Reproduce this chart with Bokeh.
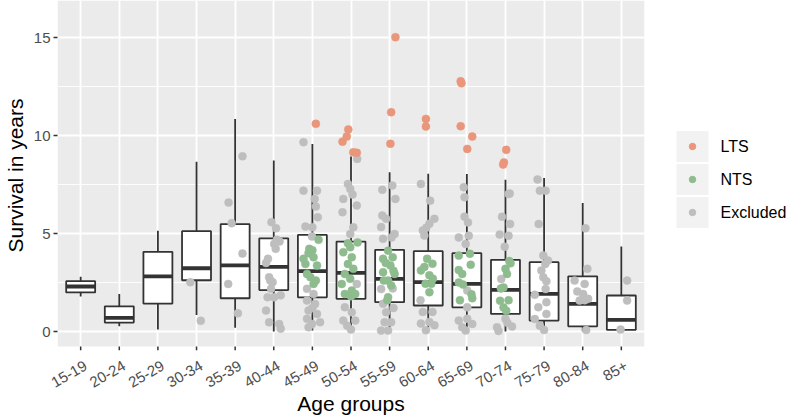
import math
import numpy as np
from bokeh.plotting import figure
from bokeh.layouts import row
from bokeh.models import Range1d, FixedTicker, BoxAnnotation
from bokeh.core.properties import value
from bokeh.embed import file_html
from bokeh.resources import INLINE

# ---------------- data ----------------
groups = ["15-19", "20-24", "25-29", "30-34", "35-39", "40-44", "45-49", "50-54",
          "55-59", "60-64", "65-69", "70-74", "75-79", "80-84", "85+"]
whisker_lo = [1.79, 0.27, 0.10, 0.85, 0.20, 0.00, 0.05, 0.05, 0.00, 0.00, 0.00, 0.00, 0.02, 0.02, 0.09]
q1 =         [2.00, 0.46, 1.43, 2.62, 1.70, 2.12, 1.75, 1.67, 1.50, 1.33, 1.24, 0.90, 0.56, 0.27, 0.09]
median =     [2.30, 0.70, 2.82, 3.23, 3.38, 3.30, 3.08, 2.99, 2.69, 2.52, 2.43, 2.13, 1.92, 1.41, 0.60]
q3 =         [2.57, 1.29, 4.07, 5.12, 5.48, 4.76, 4.93, 4.59, 4.17, 4.10, 4.00, 3.66, 3.54, 2.82, 1.84]
whisker_hi = [2.80, 1.92, 5.15, 8.67, 10.85, 8.73, 9.57, 8.93, 8.13, 8.05, 8.04, 7.74, 7.84, 6.56, 4.34]

# LTS patients (group, jitter, survival years)
lts_group = ["45-49", "50-54", "50-54", "50-54", "50-54", "50-54", "55-59", "55-59", "55-59",
             "60-64", "60-64", "65-69", "65-69", "65-69", "65-69", "65-69", "70-74", "70-74", "70-74"]
lts_jitter = [0.09, -0.07, -0.11, -0.22, 0.06, 0.15, 0.15, 0.04, 0.02,
              -0.06, -0.06, -0.16, -0.14, -0.16, 0.14, 0.01, 0.02, -0.04, -0.06]
lts_years = [10.6, 10.31, 9.95, 9.69, 9.15, 9.12, 15.02, 11.19, 9.58,
             10.85, 10.46, 12.77, 12.67, 10.48, 9.95, 9.32, 9.27, 8.63, 8.52]

# NTS patients
nts_group = (["45-49"] * 12 + ["50-54"] * 14 + ["55-59"] * 13 + ["60-64"] * 9
             + ["65-69"] * 10 + ["70-74"] * 10)
nts_jitter = [0.16, -0.08, 0.0, -0.23, 0.03, -0.18, 0.12, -0.14, -0.05, 0.03, -0.1, 0.09,
              -0.08, 0.17, -0.02, -0.2, 0.02, -0.08, 0.06, -0.16, -0.02, -0.24, 0.02, -0.16, 0.11, 0.0,
              -0.04, 0.08, -0.17, 0.02, -0.17, 0.13, -0.04, -0.15, 0.04, -0.04, -0.06, 0.1, -0.1,
              -0.03, 0.11, -0.19, 0.03, -0.07, 0.08, 0.03, -0.1, 0.12,
              -0.21, 0.08, 0.1, -0.21, -0.12, -0.21, -0.1, 0.14, -0.18, 0.12,
              0.13, 0.0, 0.04, 0.1, -0.05, -0.14, 0.08, -0.05, 0.02, -0.12]
nts_years = [4.68, 4.22, 4.15, 3.71, 3.79, 3.45, 3.37, 2.94, 2.77, 2.43, 4.0, 2.6,
             4.5, 4.55, 4.3, 4.05, 3.79, 3.45, 3.2, 2.94, 2.69, 2.43, 2.09, 1.92, 1.92, 1.8,
             4.13, 3.79, 3.71, 3.37, 3.03, 2.94, 2.6, 2.6, 2.35, 1.75, 1.6, 3.1, 3.5,
             3.71, 3.46, 3.12, 2.87, 2.44, 2.44, 2.01, 3.3, 2.7,
             3.88, 3.97, 3.41, 3.14, 2.94, 2.51, 2.4, 1.7, 1.6, 1.9,
             3.48, 3.2, 2.94, 3.6, 2.25, 1.57, 1.6, 1.23, 1.06, 2.2]

# Excluded patients
exc_group = (["30-34"] * 2 + ["35-39"] * 6 + ["40-44"] * 19 + ["45-49"] * 20 + ["50-54"] * 16
             + ["55-59"] * 18 + ["60-64"] * 14 + ["65-69"] * 14 + ["70-74"] * 13
             + ["75-79"] * 18 + ["80-84"] * 10 + ["85+"] * 3)
exc_jitter = [-0.16, 0.11,
              0.19, -0.17, -0.09, 0.19, -0.18, 0.07,
              -0.06, 0.06, 0.08, 0.01, 0.15, 0.05, -0.15, -0.2, -0.12, -0.09, -0.07, -0.16, 0.01,
              0.18, -0.2, -0.12, 0.14, 0.18, -0.03,
              -0.23, -0.23, 0.12, 0.06, 0.09, 0.14, -0.18, 0.0, -0.01, -0.14, 0.03, -0.14, 0.07,
              -0.1, 0.12, -0.14, -0.01, 0.2, -0.1, 0.0,
              0.16, -0.08, -0.02, 0.04, -0.2, 0.15, -0.22, 0.06, -0.02, 0.15, -0.16, 0.02, -0.2,
              0.11, -0.1, 0.0,
              0.07, -0.19, 0.15, -0.19, -0.09, -0.22, 0.13, -0.17, 0.05, -0.22, 0.08, -0.17, -0.09,
              -0.13, 0.04, -0.22, -0.04, 0.1,
              -0.19, 0.05, 0.16, 0.03, -0.14, -0.05, -0.1, -0.14, 0.11, -0.19, 0.03, 0.16, -0.06, -0.2,
              -0.08, -0.06, -0.06, 0.03, -0.21, 0.05, -0.03, 0.01, 0.01, -0.21, 0.01, 0.14, -0.12, -0.03,
              0.08, 0.11, -0.09, 0.12, -0.15, 0.08, -0.02, -0.11, 0.0, 0.17, -0.22, -0.18, 0.05,
              -0.17, -0.11, 0.04, -0.14, -0.02, 0.1, 0.03, -0.07, -0.02, 0.06, 0.04, -0.24, 0.06,
              -0.15, 0.06, -0.24, -0.11, 0.0,
              0.07, 0.12, -0.21, 0.05, -0.14, 0.01, 0.14, -0.08, 0.09, 0.05,
              0.15, 0.15, -0.02]
exc_years = [2.52, 0.55,
             8.94, 6.58, 5.53, 3.98, 2.43, 0.93,
             5.58, 5.27, 4.68, 4.47, 4.6, 4.22, 3.71, 3.5, 2.77, 2.6, 2.18, 1.75, 1.75,
             1.85, 1.07, 0.47, 0.39, 0.15, 2.52,
             9.66, 7.19, 7.19, 6.77, 6.38, 5.83, 5.36, 5.32, 4.85, 2.18, 1.92, 1.58, 1.41,
             1.07, 0.9, 0.65, 0.39, 0.48, 0.22, 1.2,
             8.81, 7.53, 7.28, 6.99, 6.77, 6.43, 6.09, 5.32, 4.98, 2.43, 1.24, 0.98, 0.56,
             0.56, 0.3, 0.1,
             7.45, 7.23, 6.77, 5.92, 5.75, 5.33, 4.98, 4.73, 4.8, 2.17, 2.2, 1.42, 0.99,
             0.48, 0.48, 0.05, 0.05, 1.2,
             7.53, 6.68, 5.75, 5.5, 5.16, 5.3, 4.9, 1.0, 1.0, 0.41, 0.49, 0.32, 0.07, 1.6,
             7.36, 6.85, 5.86, 5.57, 4.8, 4.89, 4.47, 2.09, 1.24, 0.56, 0.65, 0.39, 0.22, 0.05,
             7.02, 7.05, 5.86, 5.49, 4.95, 4.89, 4.33, 2.68, 0.65, 0.26, 0.22, 0.03, 0.45,
             7.76, 7.19, 7.19, 5.49, 3.88, 3.62, 3.45, 3.12, 2.77, 2.57, 2.17, 1.88, 1.5,
             1.24, 0.9, 0.64, 0.3, 0.08,
             5.27, 3.2, 2.6, 2.43, 2.05, 1.92, 1.67, 1.58, 0.08, 1.6,
             2.6, 1.58, 0.1]

status_labels = ["LTS", "NTS", "Excluded"]
status_colors = ["#E9967A", "#8FBC8F", "#BEBEBE"]

y_ticks = [0, 5, 10, 15]
y_minor = [2.5, 7.5, 12.5]

# ---------------- figure ----------------
FONT = "Liberation Sans"
H = 420
BOTTOM = 70                 # space under the plotting frame
PANEL_BOTTOM = -0.765       # lower edge of the grey panel (ggplot expansion)
TICK_LEN = 0.2              # x tick mark length, in y units (about 4 px)
xpos = np.arange(1, len(groups) + 1)
gidx = {g: i + 1 for i, g in enumerate(groups)}

p = figure(width=652, height=H, x_range=Range1d(0.4, len(groups) + 0.6),
           y_range=Range1d(PANEL_BOTTOM - TICK_LEN, 16.89), output_backend="svg",
           toolbar_location=None, min_border_left=56, min_border_right=8,
           min_border_top=0, min_border_bottom=BOTTOM)
p.background_fill_color = "white"
p.border_fill_color = "white"
p.outline_line_color = None
p.add_layout(BoxAnnotation(bottom=PANEL_BOTTOM, fill_color="#EBEBEB", fill_alpha=1,
                           line_color=None, level="image"))

p.xgrid.ticker = FixedTicker(ticks=list(xpos))
yt = FixedTicker(ticks=y_ticks, minor_ticks=y_minor)
p.yaxis.ticker = yt
p.ygrid.ticker = yt

p.grid.grid_line_color = "white"
p.grid.grid_line_width = 1.8
p.ygrid.minor_grid_line_color = "white"
p.ygrid.minor_grid_line_width = 0.9

p.axis.axis_line_color = None
p.axis.minor_tick_line_color = None
p.axis.major_label_text_color = "#4D4D4D"
p.axis.major_label_text_font = FONT
p.axis.major_label_text_font_size = "15px"
p.axis.axis_label_text_font = FONT
p.axis.axis_label_text_font_size = "21px"
p.axis.axis_label_text_font_style = "normal"
p.axis.axis_label_text_color = "black"

p.yaxis.major_tick_line_color = "#333333"
p.yaxis.major_tick_line_width = 1.5
p.yaxis.major_tick_in = 0
p.yaxis.major_tick_out = 4
p.yaxis.major_label_standoff = 3
p.yaxis.axis_label = "Survival in years"
p.yaxis.axis_label_standoff = 4

# x axis: rotated category labels, anchored like ggplot's hjust = 1
label_ticks = [float(i) + 0.13 for i in xpos]
p.xaxis.ticker = FixedTicker(ticks=label_ticks)
p.xaxis.major_label_overrides = {t: g for t, g in zip(label_ticks, groups)}
p.xaxis.major_tick_line_color = None
p.xaxis.major_tick_in = 0
p.xaxis.major_tick_out = 0
p.xaxis.major_label_orientation = math.pi / 6
p.xaxis.major_label_standoff = 14
p.xaxis.axis_label = "Age groups"
p.xaxis.axis_label_standoff = -3

BOX = "#333333"
# x tick marks under the grey panel
p.segment(x0=xpos, y0=PANEL_BOTTOM, x1=xpos, y1=PANEL_BOTTOM - TICK_LEN,
          line_color=BOX, line_width=1.5)

p.segment(x0=xpos, y0=q3, x1=xpos, y1=whisker_hi, line_color=BOX, line_width=1.8)
p.segment(x0=xpos, y0=q1, x1=xpos, y1=whisker_lo, line_color=BOX, line_width=1.8)
p.vbar(x=xpos, width=0.75, bottom=q1, top=q3, fill_color="white", line_color=BOX, line_width=1.8)
p.segment(x0=xpos - 0.375, y0=median, x1=xpos + 0.375, y1=median, line_color=BOX, line_width=3.8)

for grp, jit, yrs, col in [(exc_group, exc_jitter, exc_years, status_colors[2]),
                           (nts_group, nts_jitter, nts_years, status_colors[1]),
                           (lts_group, lts_jitter, lts_years, status_colors[0])]:
    xs = [gidx[g] + j for g, j in zip(grp, jit)]
    p.scatter(x=xs, y=yrs, size=8, fill_color=col, line_color=col, line_width=0.5)

# ---------------- legend panel ----------------
LW = 136
FRAME_H = H - BOTTOM
lg = figure(width=LW, height=H, x_range=Range1d(0, LW), y_range=Range1d(FRAME_H, 0),
            output_backend="svg", toolbar_location=None, min_border_left=0, min_border_right=0,
            min_border_top=0, min_border_bottom=BOTTOM)
lg.axis.visible = False
lg.grid.visible = False
lg.outline_line_color = None
lg.background_fill_color = "white"
lg.border_fill_color = "white"
key_y = [146, 179, 212]
lg.rect(x=40, y=key_y, width=32, height=31, fill_color="#F2F2F2", line_color=None)
lg.scatter(x=40, y=key_y, size=6.5, fill_color=status_colors, line_color=status_colors)
lg.text(x=68, y=key_y, text=status_labels, text_baseline="middle", text_align="left",
        text_font=value(FONT), text_font_size="16px", text_color="black")

layout = row(p, lg)
open("out.html", "w").write(file_html(layout, INLINE))
